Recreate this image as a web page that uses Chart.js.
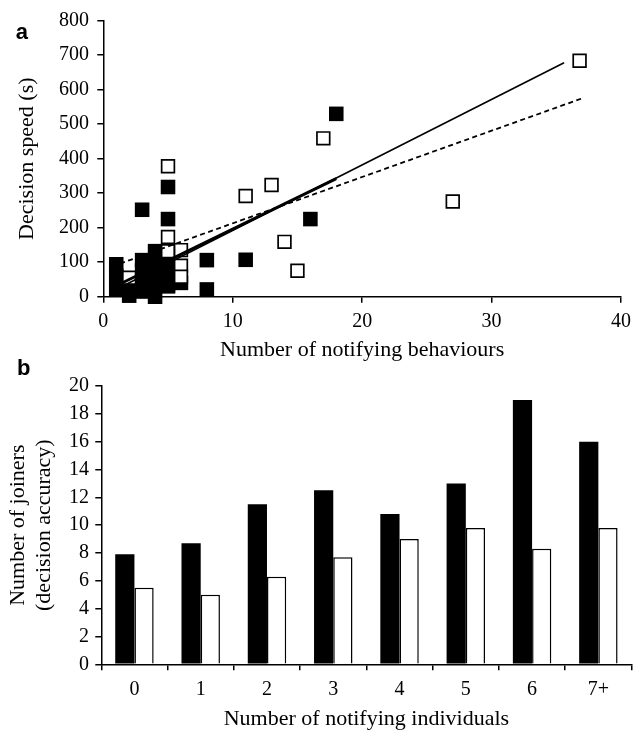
<!DOCTYPE html>
<html><head><meta charset="utf-8">
<script src="https://cdn.jsdelivr.net/npm/chart.js@4.4.1/dist/chart.umd.min.js"></script>
<style>
html,body{margin:0;padding:0;background:#fff;}
body{width:639px;height:731px;position:relative;overflow:hidden;}
canvas{position:absolute;left:0;}
#ca{top:0;}
#cb{top:340px;}
.pl{position:absolute;font:bold 22px 'Liberation Sans',Arial,sans-serif;line-height:22px;color:#000;}
</style></head><body>
<canvas id="ca" width="639" height="380" style="width:639px;height:380px"></canvas>
<canvas id="cb" width="639" height="391" style="width:639px;height:391px"></canvas>
<div class="pl" style="left:15.7px;top:20.7px">a</div>
<div class="pl" style="left:17px;top:357.4px">b</div>
<script>
// ---- Panel a: scatter data ----
const filledX = [1, 1, 1, 2, 2, 3, 3, 3, 3, 3, 4, 4, 4, 4, 4, 5, 5, 5, 5, 5, 6, 8, 8, 11, 16, 18];
const filledY = [94, 60, 22, 20, 3, 252, 106, 75, 45, 15, 132, 100, 70, 40, 0, 318, 225, 96, 65, 30, 40, 106, 21, 107, 225, 530];
const openX = [2, 5, 5, 5, 6, 6, 6, 11, 13, 14, 15, 17, 27, 36.8];
const openY = [55, 378, 173, 132, 135, 90, 58, 292, 324, 159, 75, 459, 276, 684];
const openBehindX = [4, 5];
const openBehindY = [92, 34];
// regression lines (end points)
const fitFilledX = [1.4, 18];
const fitFilledY = [39, 342];
const fitOpenX = [1.4, 35.6];
const fitOpenY = [29, 678];
const fitAllX = [1.3, 37];
const fitAllY = [96, 575];
const xTicksA = [0, 10, 20, 30, 40];
const yTicksA = [0, 100, 200, 300, 400, 500, 600, 700, 800];

// ---- Panel b: bar data ----
const categories = ['0', '1', '2', '3', '4', '5', '6', '7+'];
const blackBars = [7.9, 8.7, 11.5, 12.5, 10.8, 13.0, 19.0, 16.0];
const whiteBars = [5.5, 5.0, 6.3, 7.7, 9.0, 9.8, 8.3, 9.8];
const yTicksB = [0, 2, 4, 6, 8, 10, 12, 14, 16, 18, 20];

const toPts = (xs, ys) => xs.map((x, i) => ({x: x, y: ys[i]}));
const serif = "'Liberation Serif', 'Times New Roman', serif";
const tickFont = {family: serif, size: 20};
const titleFont = {family: serif, size: 22, lineHeight: 1.2};
const axisGrid = {display: true, drawOnChartArea: false, drawTicks: true, tickLength: 6, color: '#000', lineWidth: 1.5};
const axisBorder = {display: true, color: '#000', width: 1.5};

new Chart(document.getElementById('ca'), {
  type: 'scatter',
  data: {
    datasets: [
      {label: 'fit all', data: toPts(fitAllX, fitAllY), showLine: true, pointRadius: 0, pointHoverRadius: 0,
        borderColor: '#000', borderWidth: 1.8, borderDash: [5, 3.5], order: 0, clip: false},
      {label: 'fit open', data: toPts(fitOpenX, fitOpenY), showLine: true, pointRadius: 0, pointHoverRadius: 0,
        borderColor: '#000', borderWidth: 1.6, order: 0, clip: false},
      {label: 'fit filled', data: toPts(fitFilledX, fitFilledY), showLine: true, pointRadius: 0, pointHoverRadius: 0,
        borderColor: '#000', borderWidth: 3, order: 0, clip: false},
      {label: 'open', data: toPts(openX, openY), pointStyle: 'rect', pointRadius: 9, pointHoverRadius: 9,
        pointBackgroundColor: '#fff', pointBorderColor: '#000', pointBorderWidth: 1.7, order: 1, clip: false},
      {label: 'filled', data: toPts(filledX, filledY), pointStyle: 'rect', pointRadius: 10.3, pointHoverRadius: 10.3,
        pointBackgroundColor: '#000', pointBorderColor: '#000', pointBorderWidth: 0, order: 2, clip: false},
      {label: 'open behind', data: toPts(openBehindX, openBehindY), pointStyle: 'rect', pointRadius: 9, pointHoverRadius: 9,
        pointBackgroundColor: '#fff', pointBorderColor: '#000', pointBorderWidth: 1.7, order: 3, clip: false}
    ]
  },
  options: {
    responsive: false, animation: false, devicePixelRatio: 1, events: [],
    layout: {padding: {left: 0, right: 18, top: 20.7, bottom: 0}},
    plugins: {legend: {display: false}, tooltip: {enabled: false}},
    scales: {
      x: {
        type: 'linear', min: xTicksA[0], max: xTicksA[xTicksA.length - 1],
        afterBuildTicks: s => { s.ticks = xTicksA.map(v => ({value: v})); },
        ticks: {font: tickFont, color: '#000', padding: 7, maxRotation: 0, autoSkip: false},
        grid: axisGrid, border: axisBorder,
        title: {display: true, text: 'Number of notifying behaviours', font: titleFont, color: '#000', padding: {top: 0, bottom: 16.9}},
        afterFit: s => { s.height = 83.3; }
      },
      y: {
        type: 'linear', min: yTicksA[0], max: yTicksA[yTicksA.length - 1],
        afterBuildTicks: s => { s.ticks = yTicksA.map(v => ({value: v})); },
        ticks: {font: tickFont, color: '#000', padding: 8.3, autoSkip: false},
        grid: axisGrid, border: axisBorder,
        title: {display: true, text: 'Decision speed (s)', font: titleFont, color: '#000', padding: {top: 13.8, bottom: 0}},
        afterFit: s => { s.width = 103.3; }
      }
    }
  }
});

new Chart(document.getElementById('cb'), {
  type: 'bar',
  data: {
    labels: categories,
    datasets: [
      {label: 'black', data: blackBars, backgroundColor: '#000', borderWidth: 0, categoryPercentage: 0.58, barPercentage: 1},
      {label: 'white', data: whiteBars, backgroundColor: '#fff', borderColor: '#000', borderWidth: 1.5, categoryPercentage: 0.58, barPercentage: 1}
    ]
  },
  options: {
    responsive: false, animation: false, devicePixelRatio: 1, events: [],
    layout: {padding: {left: 0, right: 7.5, top: 46, bottom: 0}},
    plugins: {legend: {display: false}, tooltip: {enabled: false}},
    scales: {
      x: {
        ticks: {font: tickFont, color: '#000', padding: 7.2, maxRotation: 0, autoSkip: false},
        grid: Object.assign({}, axisGrid, {offset: true}), border: axisBorder,
        title: {display: true, text: 'Number of notifying individuals', font: {family: serif, size: 22, lineHeight: 1}, color: '#000', padding: {top: 0, bottom: 0.7}},
        afterFit: s => { s.height = 66.7; }
      },
      y: {
        min: yTicksB[0], max: yTicksB[yTicksB.length - 1],
        afterBuildTicks: s => { s.ticks = yTicksB.map(v => ({value: v})); },
        ticks: {font: tickFont, color: '#000', padding: 6.3, autoSkip: false},
        grid: axisGrid, border: axisBorder,
        title: {display: true, text: ['Number of joiners', '(decision accuracy)'], font: titleFont, color: '#000', padding: {top: 4.8, bottom: 0}},
        afterFit: s => { s.width = 101.3; }
      }
    }
  }
});
</script>
</body></html>
